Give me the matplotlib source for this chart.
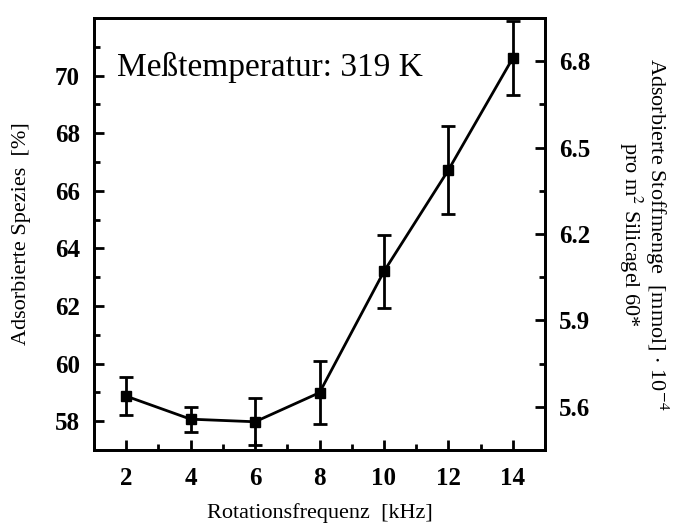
import matplotlib.pyplot as plt
from matplotlib.ticker import MultipleLocator, FixedLocator

plt.rcParams['font.family'] = 'Liberation Serif'
plt.rcParams['mathtext.fontset'] = 'stix'

# Messwerte: adsorbierte Spezies vs. Rotationsfrequenz
freq = [2, 4, 6, 8, 10, 12, 14]
spezies = [58.87, 58.07, 57.98, 58.99, 63.2, 66.72, 70.61]
fehler = [0.65, 0.43, 0.82, 1.1, 1.27, 1.52, 1.28]

links_ticks = [58, 60, 62, 64, 66, 68, 70]
rechts_ticks = [5.6, 5.9, 6.2, 6.5, 6.8]
rechts_labels = ['5.6', '5.9', '6.2', '6.5', '6.8']

fig = plt.figure(figsize=(6.79, 5.26), dpi=100)
ax = fig.add_axes([0.1384, 0.1445, 0.8027 - 0.1384, 0.9658 - 0.1445])

ax.errorbar(freq, spezies, yerr=fehler, color='black', marker='s', markersize=7.5,
            linewidth=2, elinewidth=2, capsize=5, capthick=2)

ax.set_xlim(1, 15)
ax.set_ylim(57, 72)
ax.xaxis.set_major_locator(MultipleLocator(2))
ax.xaxis.set_minor_locator(MultipleLocator(1))
ax.yaxis.set_major_locator(FixedLocator(links_ticks))
ax.yaxis.set_minor_locator(FixedLocator([57, 59, 61, 63, 65, 67, 69, 71]))
ax.tick_params(which='both', direction='in', width=2, top=False, right=False,
               labelsize=18)
ax.tick_params(axis='x', pad=12)
ax.tick_params(axis='y', pad=10)
ax.tick_params(which='major', length=7)
ax.tick_params(which='minor', length=4)
for lbl in ax.get_xticklabels() + ax.get_yticklabels():
    lbl.set_fontweight('bold')
for s in ax.spines.values():
    s.set_linewidth(2)

ax.set_xlabel('Rotationsfrequenz  [kHz]', fontsize=16, labelpad=10)
ax.set_ylabel('Adsorbierte Spezies  [%]', fontsize=16, labelpad=17)

ax.text(0.052, 0.865, 'Meßtemperatur: 319 K', transform=ax.transAxes,
        fontsize=24, va='baseline', ha='left')

# zweite Achse: Stoffmenge pro Flaeche
ax2 = ax.twinx()
ax2.set_ylim(5.45, 6.95)
ax2.set_yticks(rechts_ticks)
ax2.set_yticks([5.75, 6.05, 6.35, 6.65], minor=True)
ax2.set_yticklabels(rechts_labels)
ax2.tick_params(which='both', direction='in', width=2, labelsize=18, pad=10)
ax2.tick_params(which='major', length=7)
ax2.tick_params(which='minor', length=4)
for lbl in ax2.get_yticklabels():
    lbl.set_fontweight('bold')
for s in ax2.spines.values():
    s.set_linewidth(2)
ax2.set_ylabel('Adsorbierte Stoffmenge  [mmol] $\\cdot$ 10$^{-4}$\npro m$^2$ Silicagel 60*',
               fontsize=16, rotation=270, labelpad=58, linespacing=0.95)

fig.savefig('out.png', dpi=100)
